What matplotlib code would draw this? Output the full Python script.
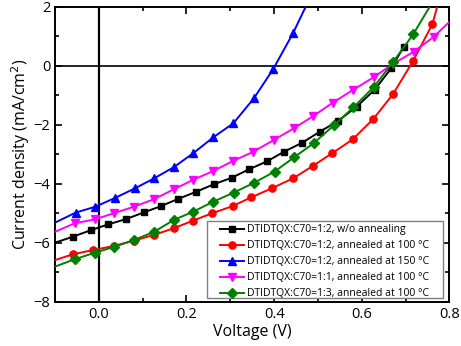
import matplotlib
matplotlib.use('Agg')
import matplotlib.pyplot as plt
from matplotlib.ticker import MultipleLocator
from matplotlib.patches import Rectangle

plt.rcParams['font.family'] = ['Open Sans', 'DejaVu Sans']

# J-V data (V in volts, J in mA/cm2)
v_black = [-0.1, -0.060, -0.019, 0.021, 0.062, 0.103, 0.142, 0.180, 0.221, 0.262, 0.303,
           0.343, 0.384, 0.422, 0.464, 0.504, 0.546, 0.588, 0.629, 0.667, 0.696]
j_black = [-6.0, -5.80, -5.58, -5.38, -5.20, -4.97, -4.76, -4.52, -4.28, -4.02, -3.80,
           -3.51, -3.24, -2.92, -2.61, -2.24, -1.87, -1.39, -0.82, -0.09, 0.65]

v_red = [-0.1, -0.059, -0.013, 0.034, 0.080, 0.125, 0.171, 0.215, 0.259, 0.305, 0.348,
         0.394, 0.443, 0.488, 0.533, 0.579, 0.626, 0.671, 0.717, 0.761, 0.772]
j_red = [-6.59, -6.39, -6.25, -6.11, -5.93, -5.74, -5.51, -5.25, -5.00, -4.76, -4.46,
         -4.16, -3.82, -3.40, -2.96, -2.50, -1.81, -0.97, 0.16, 1.41, 2.0]

v_blue = [-0.1, -0.053, -0.008, 0.036, 0.082, 0.126, 0.171, 0.215, 0.261, 0.307, 0.354,
          0.398, 0.443, 0.472]
j_blue = [-5.32, -4.98, -4.78, -4.49, -4.16, -3.82, -3.44, -2.97, -2.43, -1.95, -1.10,
          -0.11, 1.10, 2.0]

v_mag = [-0.1, -0.055, -0.009, 0.034, 0.080, 0.125, 0.171, 0.215, 0.261, 0.306, 0.352,
         0.399, 0.445, 0.489, 0.534, 0.580, 0.627, 0.671, 0.718, 0.764, 0.8]
j_mag = [-5.63, -5.34, -5.21, -5.00, -4.78, -4.53, -4.19, -3.87, -3.57, -3.23, -2.92,
         -2.52, -2.12, -1.71, -1.25, -0.82, -0.39, 0.06, 0.47, 0.98, 1.49]

v_green = [-0.1, -0.055, -0.009, 0.035, 0.080, 0.126, 0.171, 0.215, 0.261, 0.308, 0.354,
           0.401, 0.445, 0.490, 0.537, 0.581, 0.628, 0.671, 0.717, 0.755]
j_green = [-6.81, -6.56, -6.34, -6.14, -5.91, -5.63, -5.23, -4.95, -4.61, -4.30, -3.97,
           -3.59, -3.11, -2.63, -2.01, -1.41, -0.71, 0.12, 1.06, 2.0]

labels = ['DTIDTQX:C70=1:2, w/o annealing',
          'DTIDTQX:C70=1:2, annealed at 100 \u00b0C',
          'DTIDTQX:C70=1:2, annealed at 150 \u00b0C',
          'DTIDTQX:C70=1:1, annealed at 100 \u00b0C',
          'DTIDTQX:C70=1:3, annealed at 100 \u00b0C']

fig = plt.figure(figsize=(4.61, 3.46), dpi=100)
ax = fig.add_axes([0.1193, 0.128, 0.8557, 0.8526])

ax.axhline(0, color='black', lw=1.2, zorder=1)
ax.axvline(0, color='black', lw=1.6, zorder=1)

series = [
    (v_black, j_black, 'black', 's', 4.2, list(range(1, len(v_black)))),
    (v_red, j_red, '#ff0000', 'o', 5.2, list(range(1, len(v_red) - 1))),
    (v_blue, j_blue, '#0000ff', '^', 6.3, list(range(1, len(v_blue) - 1))),
    (v_mag, j_mag, '#ff00ff', 'v', 6.3, list(range(1, len(v_mag) - 1))),
    (v_green, j_green, '#008000', 'D', 5.0, list(range(1, len(v_green) - 1))),
]
for (v, j, c, m, ms, me), lab in zip(series, labels):
    ax.plot(v, j, color=c, marker=m, ms=ms, lw=1.4, markevery=me, label=lab, zorder=3)

ax.set_xlim(-0.1, 0.8)
ax.set_ylim(-8, 2)
ax.xaxis.set_major_locator(MultipleLocator(0.2))
ax.xaxis.set_minor_locator(MultipleLocator(0.1))
ax.yaxis.set_major_locator(MultipleLocator(2))
ax.yaxis.set_minor_locator(MultipleLocator(1))
ax.tick_params(which='both', direction='in', top=True, right=True, width=1.2)
ax.tick_params(which='major', length=5, labelsize=10.5)
ax.tick_params(which='minor', length=3)
ax.set_xticks([0.0, 0.2, 0.4, 0.6, 0.8])
ax.set_xticklabels(['0.0', '0.2', '0.4', '0.6', '0.8'])
for s in ax.spines.values():
    s.set_linewidth(1.4)

ax.set_xlabel('Voltage (V)', fontsize=11.5, labelpad=2)
ax.set_ylabel('Current density (mA/cm$^2$)', fontsize=11.5, labelpad=1)

# legend box drawn separately (wider left padding than matplotlib's frame allows)
ax.add_patch(Rectangle((0.386, 0.0115), 0.598, 0.262, transform=ax.transAxes,
                       facecolor='white', edgecolor='#808080', lw=1.0, zorder=4.5))
leg = ax.legend(loc='upper left', bbox_to_anchor=(0.418, 0.262), borderaxespad=0,
                borderpad=0, fontsize=7.5, frameon=False,
                handlelength=2.3, handletextpad=0.3, labelspacing=0.48)
leg.set_zorder(5)

fig.savefig('out.png', dpi=100)
